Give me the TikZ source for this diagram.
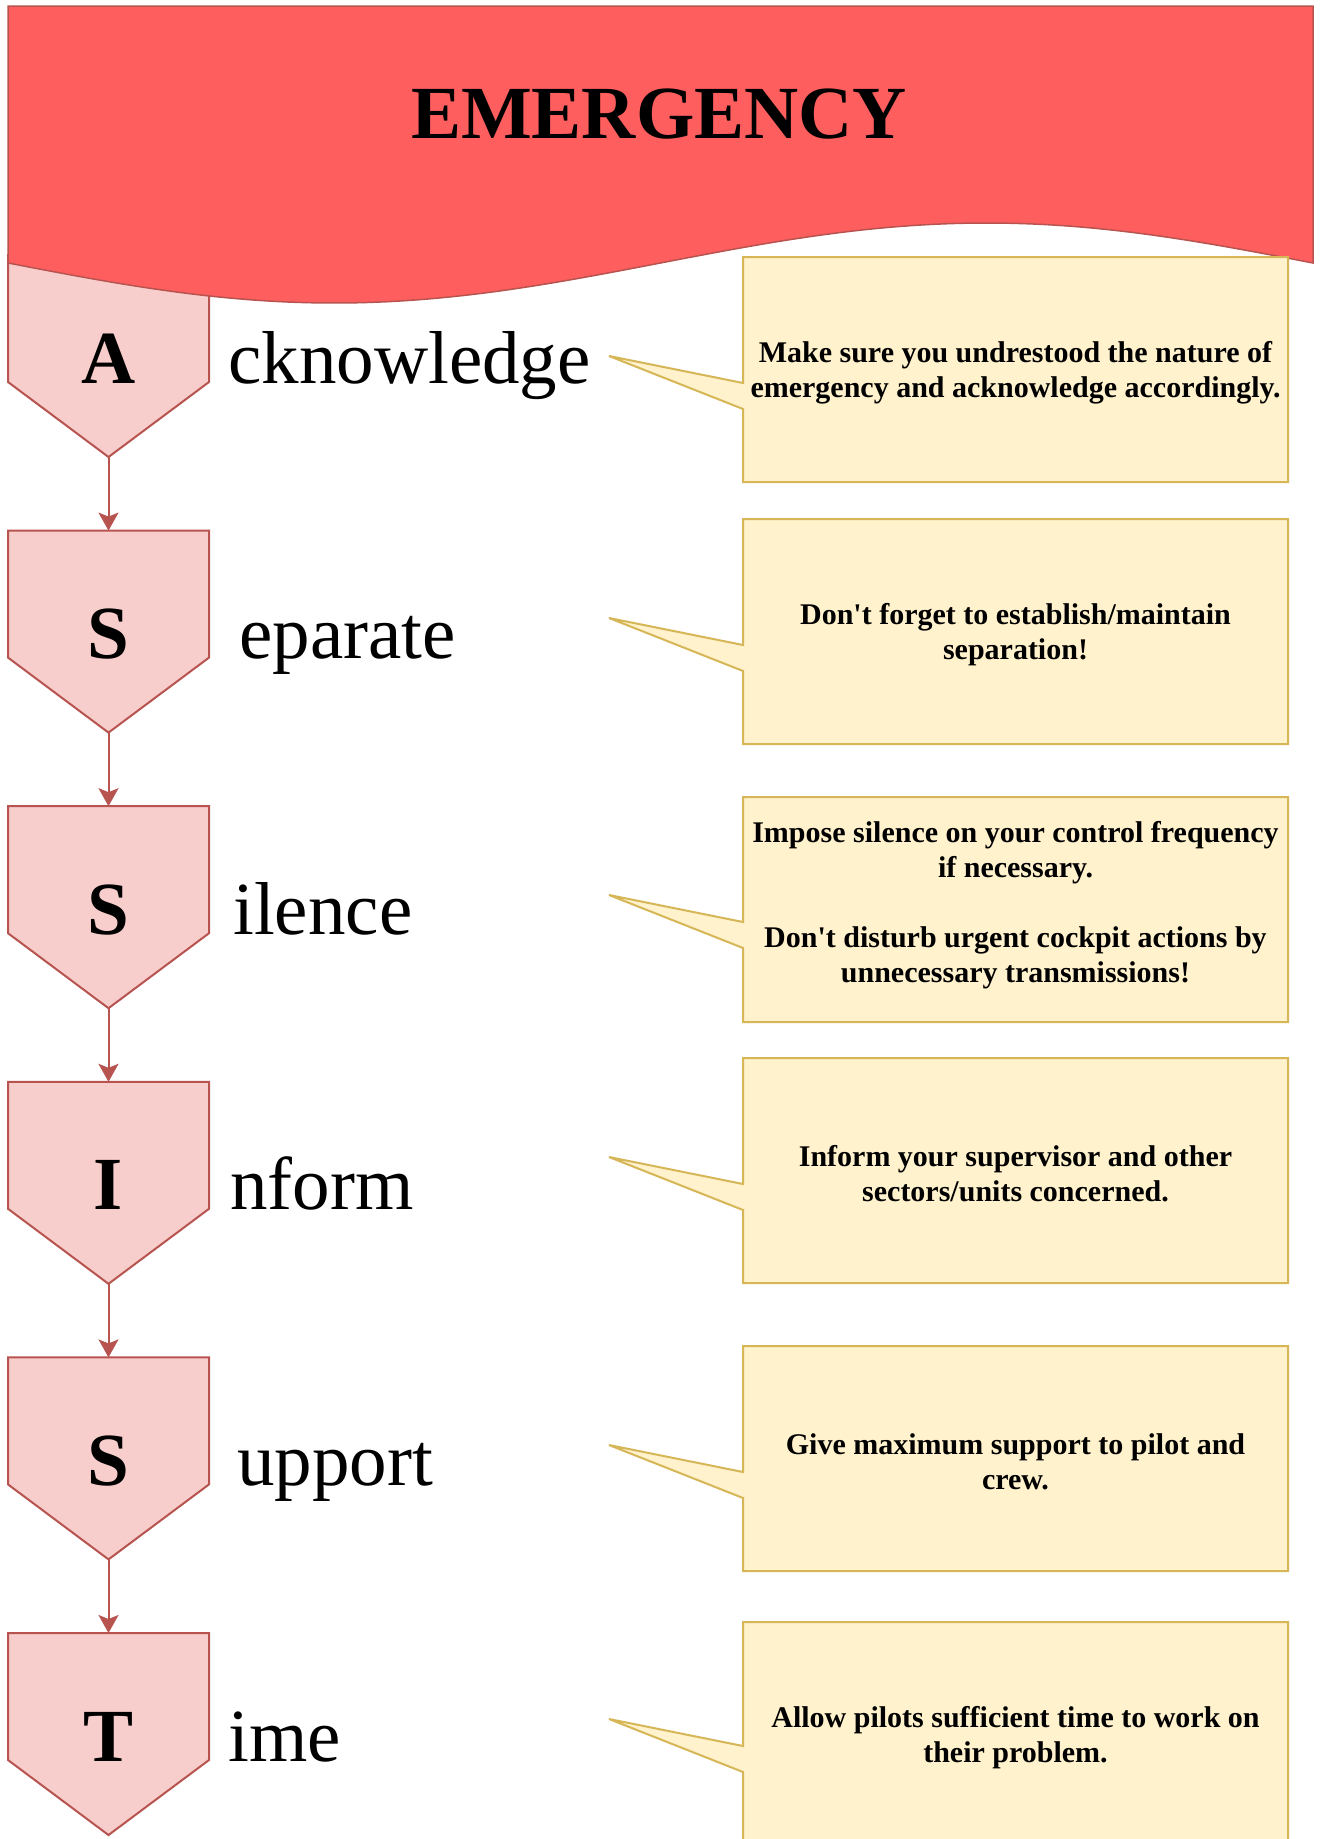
\documentclass[tikz,border=0pt]{standalone}
\usepackage{fontspec}
\setmainfont{Liberation Serif}
\usetikzlibrary{arrows.meta}
\definecolor{bannerfill}{HTML}{FF5E5E}
\definecolor{redline}{HTML}{B85450}
\definecolor{pinkfill}{HTML}{F8CECC}
\definecolor{notefill}{HTML}{FFF2CC}
\definecolor{noteline}{HTML}{D6B656}
\tikzset{
  pent/.style={draw=redline, fill=pinkfill, line width=2pt, line join=miter},
  banner/.style={draw=redline, fill=bannerfill, line width=1.5pt},
  note/.style={draw=noteline, fill=notefill, line width=2pt, line join=miter},
  notetext/.style={inner sep=0pt, align=center, font=\fontsize{30}{35}\selectfont\bfseries},
  bigletter/.style={inner sep=0pt, font=\fontsize{75}{90}\selectfont\bfseries},
  bigword/.style={inner sep=0pt, font=\fontsize{75}{90}\selectfont},
  titletext/.style={inner sep=0pt, font=\fontsize{75}{90}\selectfont\bfseries},
  flowarrow/.style={draw=redline, line width=2pt, -{Stealth[length=18pt,width=20pt,inset=4pt]}}
}
% #1 name, #2 top y, #3 letter, #4 word, #5 word x
\newcommand\pentrow[5]{%
  \draw[pent] (8,#2) -- (209,#2) -- (209,#2+127) -- (108.5,#2+202) -- (8,#2+127) -- cycle;
  \coordinate (#1-top) at (108.5,#2);
  \coordinate (#1-tip) at (108.5,#2+202);
  \node[bigletter, anchor=base] (#1-letter) at (108.5,#2+128) {#3};
  \node[bigword, anchor=base west] (#1-word) at (#5,#2+128) {#4};
}
% #1 name, #2 top y, #3 tip y, #4 text y shift, #5 text
\newcommand\noterow[5]{%
  \draw[note] (743,#2) -- (1288,#2) -- (1288,#2+225) -- (743,#2+225) -- (743,#3+53) -- (609,#3) -- (743,#3+27) -- cycle;
  \node[notetext] (#1) at (1015.5,#2+115.5+#4) {#5};
}
\begin{document}
\begin{tikzpicture}[x=1pt, y=-1pt]
  \useasboundingbox (0,0) rectangle (1320,1839);
  \fill[white] (0,0) rectangle (1320,1839);
  \clip (0,0) rectangle (1320,1839);

  % first pentagon (partly behind the banner)
  \pentrow{pA}{255}{A}{cknowledge}{228}

  % banner
  \draw[banner] (8,6) -- (1313,6) -- (1313,263)
    -- plot[domain=1313:8, samples=150] (\x,{263+40*sin(0.275862*(\x-8))}) -- cycle;
  \node[titletext, anchor=base] (title) at (659,138) {EMERGENCY};

  \pentrow{pS}{530.6}{S}{eparate}{239}
  \pentrow{pSi}{806.2}{S}{ilence}{233}
  \pentrow{pI}{1081.8}{I}{nform}{230}
  \pentrow{pSu}{1357.4}{S}{upport}{237}
  \pentrow{pT}{1633}{T}{ime}{228}

  \draw[flowarrow] (pA-tip) -- (pS-top);
  \draw[flowarrow] (pS-tip) -- (pSi-top);
  \draw[flowarrow] (pSi-tip) -- (pI-top);
  \draw[flowarrow] (pI-tip) -- (pSu-top);
  \draw[flowarrow] (pSu-tip) -- (pT-top);

  \noterow{nA}{257}{356}{0}{Make sure you undrestood the nature of\\emergency and acknowledge accordingly.}
  \noterow{nS}{519}{618}{0}{Don\textquotesingle t forget to establish/maintain\\separation!}
  \noterow{nSi}{797}{895}{-7}{Impose silence on your control frequency\\if necessary.\\[35pt]Don\textquotesingle t disturb urgent cockpit actions by\\unnecessary transmissions!}
  \noterow{nI}{1058}{1157}{0}{Inform your supervisor and other\\sectors/units concerned.}
  \noterow{nSu}{1346}{1445}{0}{Give maximum support to pilot and\\crew.}
  \noterow{nT}{1622}{1719}{0}{Allow pilots sufficient time to work on\\their problem.}
\end{tikzpicture}
\end{document}
